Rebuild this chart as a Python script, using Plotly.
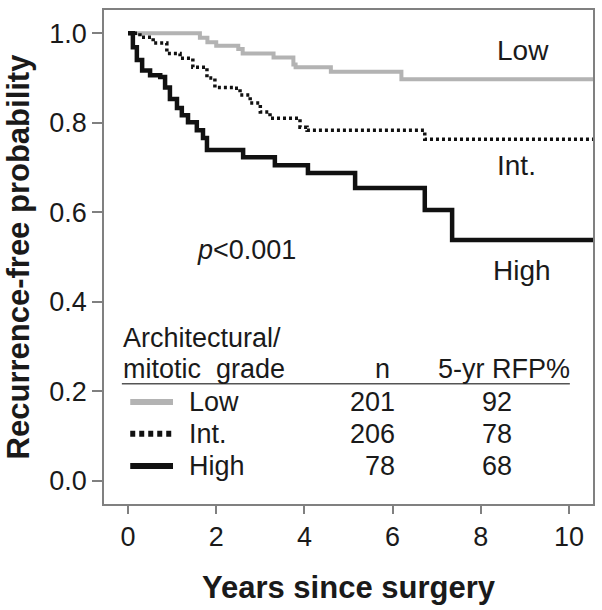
import plotly.graph_objects as go

# ---- data ----
low_t = [0, 1.63, 1.8, 2.0, 2.5, 2.6, 3.3, 3.75, 3.8, 4.6, 6.2, 10.6]
low_s = [1.0, 0.99, 0.98, 0.972, 0.965, 0.955, 0.946, 0.93, 0.924, 0.914, 0.897, 0.897]

int_t = [0, 0.27, 0.57, 0.88, 1.18, 1.47, 1.79, 1.97, 2.38, 2.54, 2.77, 3.0, 3.22, 3.6, 3.9, 4.06, 6.73, 10.6]
int_s = [1.0, 0.991, 0.978, 0.955, 0.944, 0.924, 0.9, 0.879, 0.877, 0.862, 0.844, 0.824, 0.81, 0.81, 0.79, 0.783, 0.763, 0.763]

high_t = [0, 0.11, 0.2, 0.32, 0.5, 0.73, 0.84, 0.95, 1.11, 1.22, 1.36, 1.56, 1.7, 1.79, 2.61, 3.33, 4.08, 5.15, 6.73, 7.35, 10.6]
high_s = [1.0, 0.969, 0.94, 0.917, 0.906, 0.902, 0.879, 0.853, 0.833, 0.817, 0.801, 0.783, 0.766, 0.739, 0.723, 0.705, 0.688, 0.654, 0.605, 0.538, 0.538]

groups = ["Low", "Int.", "High"]
n_vals = [201, 206, 78]
rfp5 = [92, 78, 68]

x_ticks = [0, 2, 4, 6, 8, 10]
y_ticks = [0.0, 0.2, 0.4, 0.6, 0.8, 1.0]

# ---- styles ----
FONT = "Arial, Liberation Sans, sans-serif"
GRAY = "#b3b3b3"
BLACK = "#111111"
TXT = "#1a1a1a"
styles = {
    "Low": dict(color=GRAY, width=4, dash="solid"),
    "Int.": dict(color=BLACK, width=3.5, dash="3px,3px"),
    "High": dict(color=BLACK, width=4.5, dash="solid"),
}

fig = go.Figure()
for name, t, s in [("Low", low_t, low_s), ("Int.", int_t, int_s), ("High", high_t, high_s)]:
    fig.add_trace(go.Scatter(x=t, y=s, mode="lines", line_shape="hv",
                             line=styles[name], name=name, showlegend=False))

ann = []
def txt(x, y, text, size=27, xanchor="center", **kw):
    ann.append(dict(x=x, y=y, xref="x", yref="y", text=text, showarrow=False,
                    xanchor=xanchor, yanchor="middle",
                    font=dict(family=FONT, size=size, color=TXT), **kw))

# curve labels
txt(8.96, 0.962, "Low", size=28)
txt(8.8, 0.705, "Int.", size=28)
txt(8.93, 0.469, "High", size=28)
txt(2.68, 0.516, "<i>p</i>&lt;0.001", size=27)

# legend table
txt(-0.15, 0.319, "Architectural/", xanchor="left")
txt(-0.15, 0.25, "mitotic  grade", xanchor="left")
txt(5.78, 0.25, "n")
txt(8.53, 0.25, "5-yr RFP%")
row_y = [0.176, 0.105, 0.033]
for g, n, r, yy in zip(groups, n_vals, rfp5, row_y):
    txt(1.34, yy, g, xanchor="left")
    txt(6.1, yy, str(n), xanchor="right")
    txt(8.37, yy, str(r))

shapes = [dict(type="line", xref="x", yref="y", x0=-0.14, x1=10.02, y0=0.2165, y1=0.2165,
               line=dict(color="#555555", width=1.5))]
for g, yy in zip(groups, row_y):
    st = styles[g]
    shapes.append(dict(type="line", xref="x", yref="y", x0=0.05, x1=1.02, y0=yy, y1=yy,
                       line=dict(color=st["color"], width=6,
                                 dash=("5px,4px" if g == "Int." else "solid"))))

fig.update_layout(
    width=602, height=610,
    margin=dict(l=104, r=9, t=10, b=106),
    paper_bgcolor="white", plot_bgcolor="white",
    annotations=ann, shapes=shapes,
    font=dict(family=FONT, color=TXT),
    xaxis=dict(range=[-0.545, 10.545], tickvals=x_ticks, ticktext=[str(v) for v in x_ticks],
               automargin=False,
               showgrid=False, zeroline=False, showline=True, mirror=True,
               linecolor="#808080", linewidth=1.5, ticks="outside", ticklen=8,
               tickcolor="#808080", tickwidth=1.5,
               tickfont=dict(family=FONT, size=27, color=TXT),
               title=dict(text="<b>Years since surgery</b>", standoff=25,
                          font=dict(family=FONT, size=31, color=TXT))),
    yaxis=dict(range=[-0.052, 1.052], tickvals=y_ticks, ticktext=[f"{v:.1f}" for v in y_ticks],
               automargin=False,
               showgrid=False, zeroline=False, showline=True, mirror=True,
               linecolor="#808080", linewidth=1.5, ticks="outside", ticklen=10,
               tickcolor="#808080", tickwidth=1.5, ticklabelstandoff=0,
               tickfont=dict(family=FONT, size=27, color=TXT),
               title=dict(text="<b>Recurrence-free probability</b>", standoff=10,
                          font=dict(family=FONT, size=31, color=TXT))),
)

fig.write_html("out.html", config={"displayModeBar": False},
               post_script="document.body.style.margin='0';")
